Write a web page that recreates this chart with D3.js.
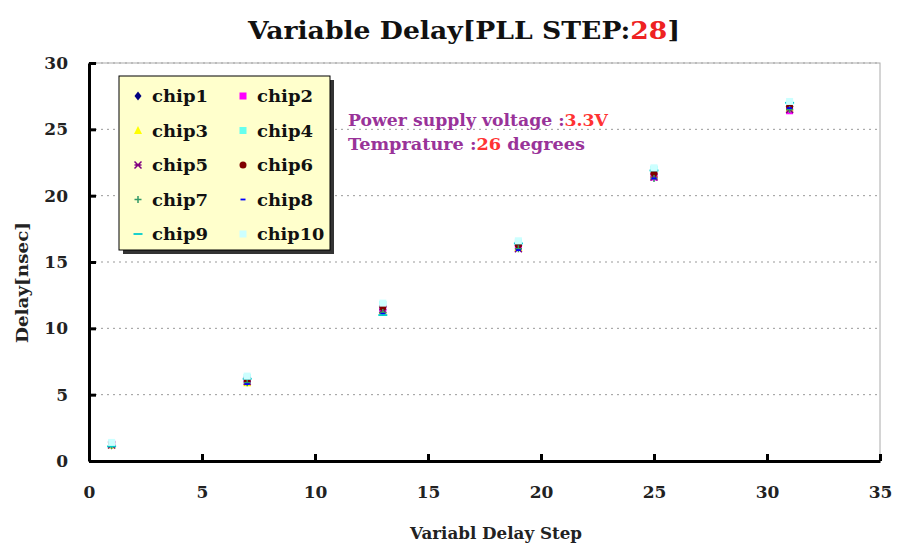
<!DOCTYPE html>
<html>
<head>
<meta charset="utf-8">
<script src="https://cdnjs.cloudflare.com/ajax/libs/d3/7.8.5/d3.min.js"></script>
<style>
  body { margin: 0; background: #fff; }
  text { font-family: "DejaVu Serif", "Liberation Serif", serif; }
</style>
</head>
<body>
<div id="chart-container"></div>
<script>
// data
const steps = [1, 7, 13, 19, 25, 31];
const chipNames = ["chip1", "chip2", "chip3", "chip4", "chip5", "chip6", "chip7", "chip8", "chip9", "chip10"];
const chip1 = [1.2, 6.0, 11.4, 16.2, 21.5, 26.8];
const chip2 = [1.3, 6.1, 11.5, 16.3, 21.4, 26.4];
const chip3 = [1.2, 5.9, 11.3, 16.1, 21.6, 26.6];
const chip4 = [1.3, 6.3, 11.8, 16.5, 22.0, 26.9];
const chip5 = [1.2, 6.0, 11.4, 16.0, 21.4, 26.5];
const chip6 = [1.3, 6.1, 11.6, 16.3, 21.7, 26.7];
const chip7 = [1.2, 5.9, 11.2, 16.0, 21.3, 26.5];
const chip8 = [1.3, 5.8, 11.1, 15.9, 21.3, 26.6];
const chip9 = [1.1, 6.2, 11.0, 16.4, 21.9, 27.0];
const chip10 = [1.4, 6.4, 11.9, 16.6, 22.1, 27.1];
const xTicks = [0, 5, 10, 15, 20, 25, 30, 35];
const yTicks = [0, 5, 10, 15, 20, 25, 30];

const chipValues = [chip1, chip2, chip3, chip4, chip5, chip6, chip7, chip8, chip9, chip10];
const colors = ["#000080", "#ff00ff", "#ffff00", "#66ffee", "#800080", "#800000", "#339966", "#0000ff", "#00cccc", "#ccffff"];
const shapes = ["diamond", "square", "triangle", "square", "x", "circle", "plus", "dash", "longdash", "square"];

const width = 898, height = 552;
const margin = { top: 63, right: 18, bottom: 91, left: 89 };
const plotW = width - margin.left - margin.right;
const plotH = height - margin.top - margin.bottom;

const svg = d3.select("#chart-container")
  .append("svg")
  .attr("width", width)
  .attr("height", height);

const xScale = d3.scaleLinear().domain([0, 35]).range([margin.left, margin.left + plotW]);
const yScale = d3.scaleLinear().domain([0, 30]).range([margin.top + plotH, margin.top]);

// dotted gridlines
svg.append("g")
  .selectAll("line")
  .data(yTicks.filter(d => d > 0))
  .enter()
  .append("line")
  .attr("x1", margin.left)
  .attr("x2", margin.left + plotW)
  .attr("y1", d => yScale(d))
  .attr("y2", d => yScale(d))
  .attr("stroke", "#999")
  .attr("stroke-width", 1)
  .attr("stroke-dasharray", "2,4");

// plot frame (right / top)
svg.append("rect")
  .attr("x", margin.left)
  .attr("y", margin.top)
  .attr("width", plotW)
  .attr("height", plotH)
  .attr("fill", "none")
  .attr("stroke", "#aaa")
  .attr("stroke-width", 1);

// axes
const xAxis = svg.append("g")
  .attr("transform", `translate(0, ${margin.top + plotH})`)
  .call(d3.axisBottom(xScale).tickValues(xTicks).tickSizeInner(-7).tickSizeOuter(0).tickPadding(25));
const yAxis = svg.append("g")
  .attr("transform", `translate(${margin.left}, 0)`)
  .call(d3.axisLeft(yScale).tickValues(yTicks).tickSizeInner(-7).tickSizeOuter(0).tickPadding(21));

[xAxis, yAxis].forEach(ax => {
  ax.select(".domain").attr("stroke", "#000").attr("stroke-width", 3);
  ax.selectAll(".tick line").attr("stroke", "#000").attr("stroke-width", 3);
  ax.selectAll(".tick text")
    .attr("fill", "#222")
    .style("font-size", "17px")
    .style("font-weight", "bold")
    .style("font-family", "'DejaVu Serif', 'Liberation Serif', serif");
});

// marker drawing helper
function drawMarker(g, shape, color, x, y) {
  const s = 3.5;
  if (shape === "diamond") {
    g.append("path").attr("d", `M${x},${y - s - 1}L${x + s},${y}L${x},${y + s + 1}L${x - s},${y}Z`).attr("fill", color);
  } else if (shape === "square") {
    g.append("rect").attr("x", x - s).attr("y", y - s).attr("width", 2 * s).attr("height", 2 * s).attr("fill", color);
  } else if (shape === "triangle") {
    g.append("path").attr("d", `M${x},${y - s - 1}L${x + s + 0.5},${y + s}L${x - s - 0.5},${y + s}Z`).attr("fill", color);
  } else if (shape === "circle") {
    g.append("circle").attr("cx", x).attr("cy", y).attr("r", s).attr("fill", color);
  } else if (shape === "x") {
    g.append("path").attr("d", `M${x - s},${y - s}L${x + s},${y + s}M${x - s},${y + s}L${x + s},${y - s}M${x - s},${y}L${x + s},${y}`)
      .attr("stroke", color).attr("stroke-width", 1.5);
  } else if (shape === "plus") {
    g.append("path").attr("d", `M${x - s},${y}L${x + s},${y}M${x},${y - s}L${x},${y + s}`)
      .attr("stroke", color).attr("stroke-width", 1.5);
  } else if (shape === "dash") {
    g.append("path").attr("d", `M${x - s + 1},${y}L${x + s - 1},${y}`).attr("stroke", color).attr("stroke-width", 1.8);
  } else if (shape === "longdash") {
    g.append("path").attr("d", `M${x - s - 1},${y}L${x + s + 1},${y}`).attr("stroke", color).attr("stroke-width", 1.8);
  }
}

// points
const pts = svg.append("g");
chipValues.forEach((vals, i) => {
  vals.forEach((v, j) => {
    drawMarker(pts, shapes[i], colors[i], xScale(steps[j]), yScale(v));
  });
});

// legend
const lg = svg.append("g").attr("transform", "translate(119, 76)");
lg.append("rect").attr("x", 4).attr("y", 4).attr("width", 211).attr("height", 174).attr("fill", "#333");
lg.append("rect").attr("x", 0).attr("y", 0).attr("width", 211).attr("height", 174)
  .attr("fill", "#ffffcc").attr("stroke", "#000").attr("stroke-width", 1);
chipNames.forEach((name, i) => {
  const col = i % 2, row = Math.floor(i / 2);
  const mx = 19 + col * 105, my = 20 + row * 34.5;
  drawMarker(lg, shapes[i], colors[i], mx, my);
  lg.append("text")
    .attr("x", mx + 14)
    .attr("y", my + 6)
    .attr("textLength", name.length * 11.2)
    .attr("lengthAdjust", "spacingAndGlyphs")
    .style("font-size", "16px")
    .style("font-weight", "bold")
    .attr("fill", "#111")
    .text(name);
});

// title
const title = svg.append("text")
  .attr("x", 248)
  .attr("y", 39)
  .attr("textLength", 432)
  .attr("lengthAdjust", "spacingAndGlyphs")
  .style("font-size", "24px")
  .style("font-weight", "bold")
  .attr("fill", "#111");
title.append("tspan").text("Variable Delay[PLL STEP:");
title.append("tspan").attr("fill", "#ee2222").text("28");
title.append("tspan").text("]");

// annotation
const note1 = svg.append("text").attr("x", 348).attr("y", 126)
  .attr("textLength", 260).attr("lengthAdjust", "spacingAndGlyphs")
  .style("font-size", "16px").style("font-weight", "bold").attr("fill", "#993399");
note1.append("tspan").text("Power supply voltage :");
note1.append("tspan").attr("fill", "#ff3333").text("3.3V");
const note2 = svg.append("text").attr("x", 348).attr("y", 150)
  .attr("textLength", 237).attr("lengthAdjust", "spacingAndGlyphs")
  .style("font-size", "16px").style("font-weight", "bold").attr("fill", "#993399");
note2.append("tspan").text("Temprature :");
note2.append("tspan").attr("fill", "#ff3333").text("26");
note2.append("tspan").text(" degrees");

// axis titles
svg.append("text")
  .attr("x", 410)
  .attr("y", 539)
  .attr("textLength", 172)
  .attr("lengthAdjust", "spacingAndGlyphs")
  .style("font-size", "16px")
  .style("font-weight", "bold")
  .attr("fill", "#222")
  .text("Variabl Delay Step");

svg.append("text")
  .attr("transform", "translate(28, 343) rotate(-90)")
  .attr("textLength", 121)
  .attr("lengthAdjust", "spacingAndGlyphs")
  .style("font-size", "16px")
  .style("font-weight", "bold")
  .attr("fill", "#222")
  .text("Delay[nsec]");
</script>
</body>
</html>
